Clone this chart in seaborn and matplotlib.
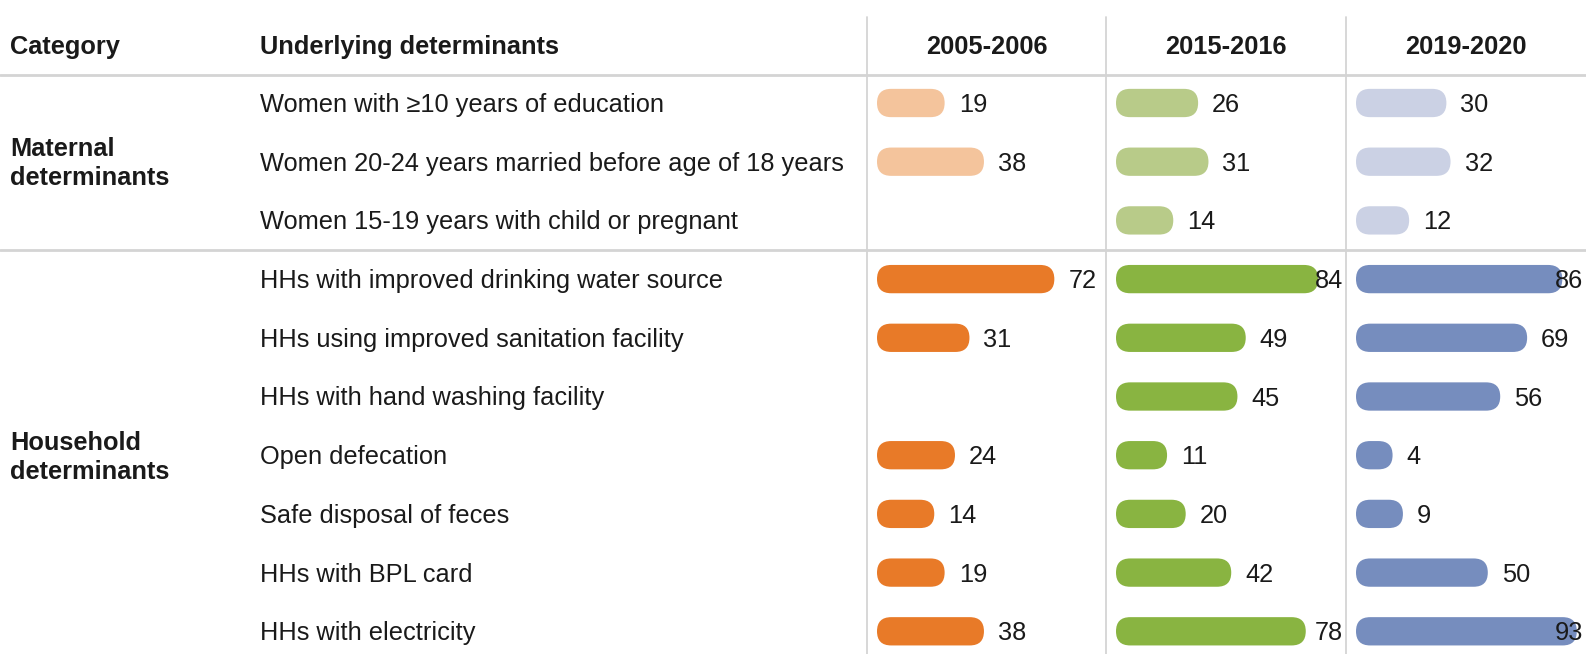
import numpy as np
import pandas as pd
import seaborn as sns
import matplotlib.pyplot as plt
from matplotlib.patches import FancyBboxPatch

# data
groups = ["Maternal\ndeterminants"] * 3 + ["Household\ndeterminants"] * 7
determinants = [
    "Women with \u226510 years of education",
    "Women 20-24 years married before age of 18 years",
    "Women 15-19 years with child or pregnant",
    "HHs with improved drinking water source",
    "HHs using improved sanitation facility",
    "HHs with hand washing facility",
    "Open defecation",
    "Safe disposal of feces",
    "HHs with BPL card",
    "HHs with electricity",
]
periods = ["2005-2006", "2015-2016", "2019-2020"]
vals_2005 = [19, 38, np.nan, 72, 31, np.nan, 24, 14, 19, 38]
vals_2015 = [26, 31, 14, 84, 49, 45, 11, 20, 42, 78]
vals_2019 = [30, 32, 12, 86, 69, 56, 4, 9, 50, 93]
light_colors = ["#F4C49C", "#B8CB89", "#CBD1E4"]
dark_colors = ["#E87A28", "#89B441", "#768DBE"]

sns.set_theme(style="white")
plt.rcParams["font.family"] = ["Liberation Sans", "DejaVu Sans"]

W, H = 1586, 654
fig = plt.figure(figsize=(W / 100, H / 100), dpi=100)
fig.patch.set_facecolor("white")

text_color = "#1A1A1A"
line_color = "#D4D4D4"
fs = 18.3
dy = 2  # small nudge so text sits like the reference

# layout (pixels)
header_y = 45
header_line = 75
group_line = 250
row0 = 103
row_h = 58.7
col_edges = [867, 1106, 1346, W]
px_per_unit = 2.07
bar_px = 28.3

bg = fig.add_axes([0, 0, 1, 1])
bg.set_xlim(0, W)
bg.set_ylim(H, 0)
bg.axis("off")

bg.plot([0, W], [header_line, header_line], color=line_color, lw=2)
bg.plot([0, W], [group_line, group_line], color=line_color, lw=2)
for x in col_edges[:-1]:
    bg.plot([x, x], [17, H], color=line_color, lw=1.3)

bg.text(10, header_y + dy, "Category", fontsize=fs, fontweight="bold", color=text_color, va="center")
bg.text(260, header_y + dy, "Underlying determinants", fontsize=fs, fontweight="bold", color=text_color, va="center")
for i, p in enumerate(periods):
    bg.text((col_edges[i] + col_edges[i + 1]) / 2, header_y + dy, p, fontsize=fs, fontweight="bold",
            color=text_color, va="center", ha="center")

for j, d in enumerate(determinants):
    bg.text(260, row0 + j * row_h + dy, d, fontsize=fs, color=text_color, va="center")

group_names = list(dict.fromkeys(groups))
for g, j in zip(group_names, [1, 6]):
    bg.text(10, row0 + j * row_h + dy, g, fontsize=fs, fontweight="bold", color=text_color,
            va="center", linespacing=1.27)

renderer = fig.canvas.get_renderer()
all_vals = [vals_2005, vals_2015, vals_2019]
for i, vals in enumerate(all_vals):
    left, right = col_edges[i], col_edges[i + 1]
    ax = fig.add_axes([left / W, 0, (right - left) / W, (H - header_line) / H])
    df = pd.DataFrame({"determinant": determinants, "value": vals, "group": groups}).dropna()
    sns.barplot(data=df, x="value", y="determinant", hue="group", order=determinants,
                hue_order=group_names, palette=[light_colors[i], dark_colors[i]],
                dodge=False, width=bar_px / row_h, saturation=1, legend=False, ax=ax)
    x0 = -(10 + bar_px / 2) / px_per_unit
    x1 = x0 + (right - left) / px_per_unit
    ax.set_xlim(x0, x1)
    ax.set_ylim((H - row0) / row_h, (header_line - row0) / row_h)
    ax.axis("off")

    # round the bar ends
    aspect = px_per_unit / row_h
    for p in list(ax.patches):
        x, y, w, h = p.get_x(), p.get_y(), p.get_width(), p.get_height()
        fc = p.get_facecolor()
        p.remove()
        r = h * row_h / 2 / px_per_unit
        ax.add_patch(FancyBboxPatch((x - r, y), w + 2 * r, h,
                                    boxstyle=f"round,pad=0,rounding_size={r}",
                                    mutation_aspect=aspect, fc=fc, ec="none"))

    r = bar_px / 2 / px_per_unit
    limit = x1 - 3 / px_per_unit
    for j, v in enumerate(vals):
        if np.isnan(v):
            continue
        t = ax.text(v + r + 14 / px_per_unit, j + dy / row_h, f"{v:g}", fontsize=fs,
                    color=text_color, va="center", ha="left")
        bb = t.get_window_extent(renderer)
        if bb.x1 > ax.transData.transform((limit, 0))[0]:
            t.set_x(limit)
            t.set_ha("right")

fig.savefig("out.png", dpi=100)
